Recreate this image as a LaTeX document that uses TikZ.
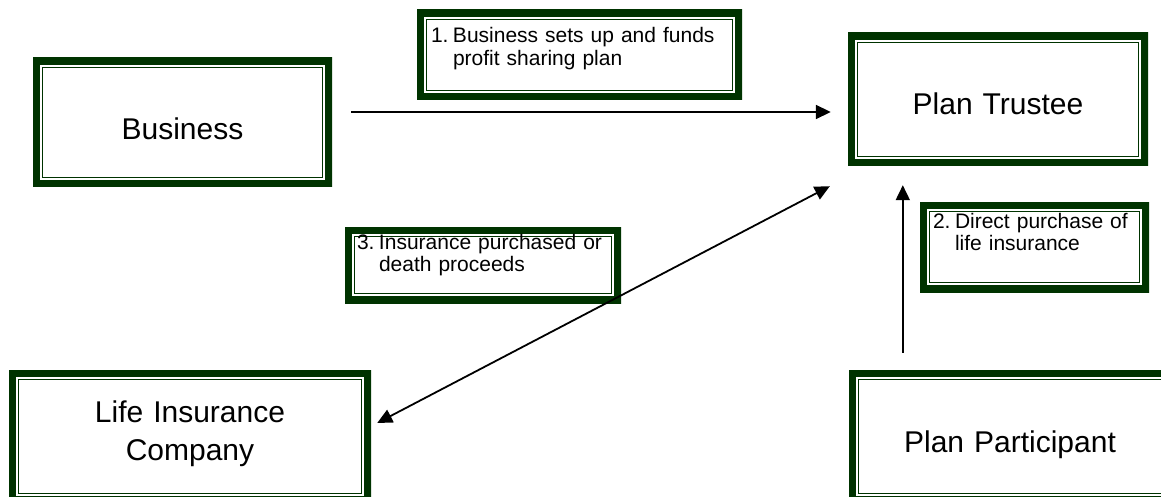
\documentclass[tikz,border=0pt]{standalone}
\usepackage{fontspec}
\setmainfont{Liberation Sans}
\usetikzlibrary{arrows.meta, calc}
\definecolor{boxgreen}{RGB}{0, 51, 0}

\newcommand{\stepnum}[1]{\makebox[22pt][l]{#1}}

\tikzset{
  framed/.style={inner sep=0pt, fill=white,
    path picture={
      \draw[boxgreen, line width=14pt] (path picture bounding box.south west) rectangle (path picture bounding box.north east);
      \draw[boxgreen, line width=1.5pt] ([shift={(9.5pt,9.5pt)}]path picture bounding box.south west)
        rectangle ([shift={(-9.5pt,-9.5pt)}]path picture bounding box.north east);
    }},
  party/.style={framed, align=center, text width=250pt, font=\fontsize{30}{38}\selectfont},
  note/.style={framed, align=left, font=\fontsize{21}{22.5}\selectfont},
  flow/.style={-{Triangle[length=15pt, width=14pt]}, line width=1.8pt},
  flowboth/.style={{Triangle[length=15pt, width=14pt]}-{Triangle[length=15pt, width=14pt]}, line width=1.8pt}
}

\begin{document}
\begin{tikzpicture}[x=1pt, y=-1pt]
  \useasboundingbox (0,0) rectangle (1161,497);
  \clip (0,0) rectangle (1161,497);

  % Parties
  \node[party, minimum width=299pt, minimum height=129pt, text height=82pt, text depth=47pt]
    (business) at (182.5,122.5) {Business};
  \node[party, minimum width=300pt, minimum height=133pt, text height=82pt, text depth=51pt]
    (trustee) at (998,99.5) {Plan Trustee};
  \node[party, minimum width=362pt, minimum height=133pt, text height=52pt, text depth=81pt]
    (life) at (190,436.5) {Life Insurance\\Company};
  \node[party, minimum width=322pt, minimum height=133pt, text height=82pt, text depth=51pt]
    (participant) at (1010,436.5) {Plan Participant};

  % Step notes
  \node[note, minimum width=325pt, minimum height=90pt, text width=297pt, text height=33pt, text depth=57pt]
    (note1) at (579.5,55) {\stepnum{1.}\mbox{Business sets up and funds}\\\hspace*{22pt}profit sharing plan};
  \node[note, minimum width=229pt, minimum height=90pt, text width=203pt, text height=26pt, text depth=64pt]
    (note2) at (1034.5,247) {\stepnum{2.}\mbox{Direct purchase of}\\\hspace*{22pt}life insurance};
  \node[note, minimum width=276pt, minimum height=76pt, text width=252pt, text height=22pt, text depth=54pt]
    (note3) at (483,265) {\stepnum{3.}\mbox{Insurance purchased or}\\\hspace*{22pt}death proceeds};

  % Flows
  \draw[flow] ([shift={(19pt,10.5pt)}]business.east) coordinate (a1) -- ($(trustee.west |- a1)+(-17pt,0pt)$);
  \draw[flow] ([shift={(54pt,17pt)}]participant.north west) coordinate (a2) -- ($(a2 |- trustee.south)+(0pt,-19pt)$);
  \draw[flowboth] ([shift={(6pt,13.5pt)}]life.east) -- ([shift={(-18pt,-20pt)}]trustee.south west);
\end{tikzpicture}
\end{document}
